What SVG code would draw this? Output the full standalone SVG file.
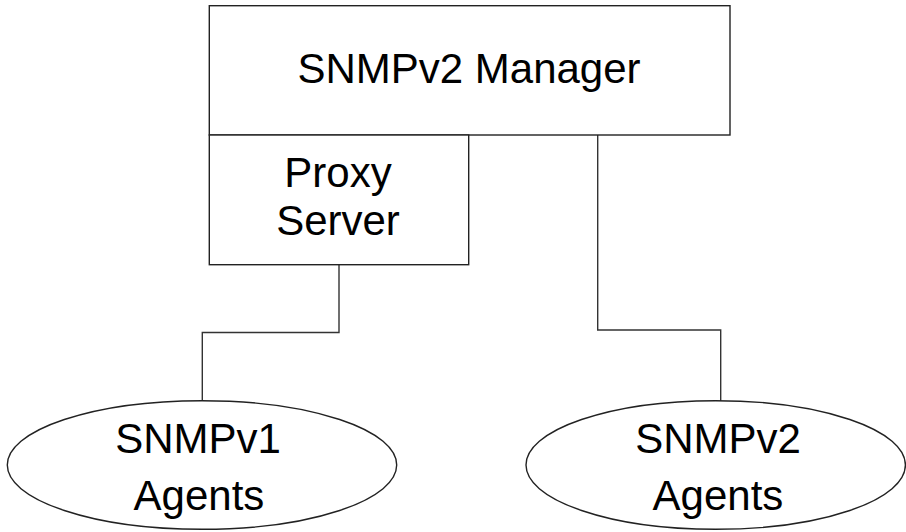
<svg xmlns="http://www.w3.org/2000/svg" width="906" height="532" viewBox="0 0 906 532">
  <style>
    .shape { fill: #ffffff; stroke: #222222; stroke-width: 1.4; }
    .wire { fill: none; stroke: #333333; stroke-width: 1.4; }
    .label { font-family: "Liberation Sans", Arial, sans-serif; font-size: 42px; fill: #000000; text-anchor: middle; }
  </style>
  <rect width="906" height="532" fill="#ffffff"/>

  <!-- links between the boxes and the agent groups -->
  <g id="connectors">
    <polyline class="wire" points="339,265 339,332.5 202.3,332.5 202.3,401"/>
    <polyline class="wire" points="597.7,135 597.7,330 720.7,330 720.7,401"/>
  </g>

  <g id="manager">
    <rect class="shape" x="209.3" y="5.7" width="520.7" height="129.3"/>
    <text class="label" x="469" y="83">SNMPv2 Manager</text>
  </g>

  <g id="proxy">
    <rect class="shape" x="209.3" y="135" width="259.4" height="129.7"/>
    <text class="label" x="338" y="187">Proxy</text>
    <text class="label" x="338" y="235">Server</text>
  </g>

  <g id="v1-agents">
    <ellipse class="shape" cx="202" cy="465" rx="194.7" ry="64.3"/>
    <text class="label" x="198" y="453">SNMPv1</text>
    <text class="label" x="199" y="510">Agents</text>
  </g>

  <g id="v2-agents">
    <ellipse class="shape" cx="715.7" cy="465" rx="189.7" ry="64.3"/>
    <text class="label" x="718" y="453">SNMPv2</text>
    <text class="label" x="718" y="510">Agents</text>
  </g>
</svg>
